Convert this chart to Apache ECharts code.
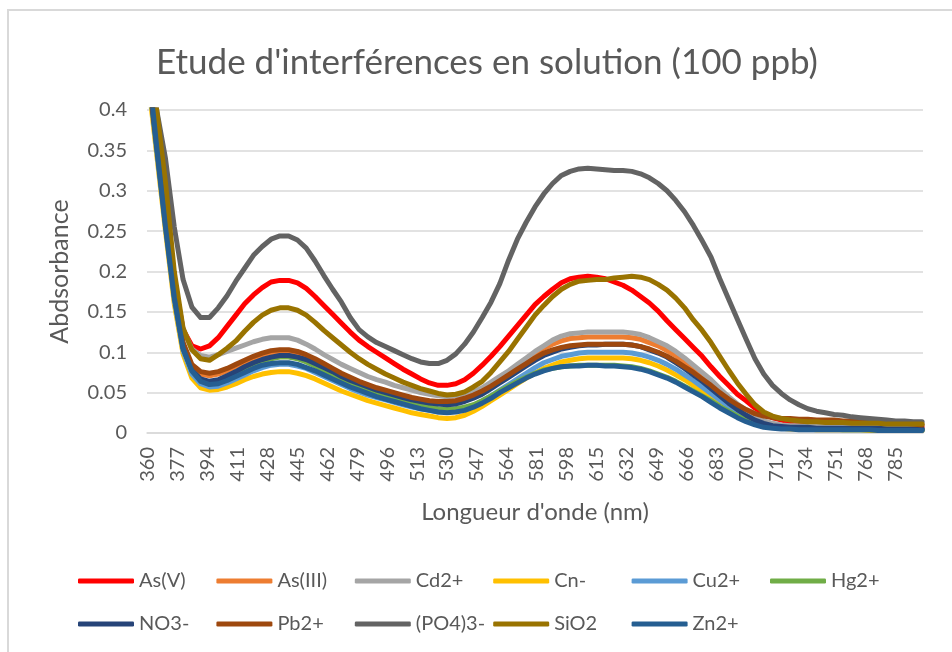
<!DOCTYPE html>
<html>
<head>
<meta charset="utf-8">
<title>Etude d'interférences en solution (100 ppb)</title>
<script src="https://cdn.jsdelivr.net/npm/echarts@6/dist/echarts.min.js"></script>
<style>
  html, body { margin: 0; padding: 0; background: #ffffff; }
  #chart { width: 952px; height: 652px; }
</style>
</head>
<body>
<div id="chart"></div>
<script>
// Absorbance spectra, one reading every 5 nm from 360 nm to 800 nm.
const START_NM = 360;
const END_NM = 800;
const STEP_NM = 5;

const seriesNames = ['As(V)', 'As(III)', 'Cd2+', 'Cn-', 'Cu2+', 'Hg2+', 'NO3-', 'Pb2+', '(PO4)3-', 'SiO2', 'Zn2+'];
const seriesColors = ['#FF0000', '#ED7D31', '#A5A5A5', '#FFC000', '#5B9BD5', '#70AD47', '#264478', '#9E480E', '#636363', '#997300', '#255E91'];

const asV = [
  0.45, 0.37, 0.28, 0.19, 0.128, 0.108, 0.104, 0.108, 0.118, 0.132,
  0.146, 0.160, 0.171, 0.180, 0.187, 0.189, 0.189, 0.186, 0.179, 0.169,
  0.158, 0.147, 0.136, 0.125, 0.115, 0.107, 0.100, 0.093, 0.086, 0.079,
  0.073, 0.067, 0.062, 0.059, 0.059, 0.061, 0.066, 0.074, 0.084, 0.095,
  0.107, 0.120, 0.133, 0.146, 0.159, 0.169, 0.178, 0.186, 0.191, 0.193,
  0.194, 0.193, 0.191, 0.187, 0.183, 0.177, 0.169, 0.161, 0.151, 0.139,
  0.128, 0.117, 0.106, 0.095, 0.082, 0.070, 0.059, 0.048, 0.040, 0.031,
  0.024, 0.019, 0.016, 0.014, 0.013, 0.012, 0.012, 0.011, 0.011, 0.010,
  0.010, 0.009, 0.009, 0.009, 0.008, 0.008, 0.008, 0.007, 0.007
];
const asIII = [
  0.45, 0.36, 0.27, 0.175, 0.110, 0.083, 0.073, 0.071, 0.073, 0.077,
  0.082, 0.087, 0.092, 0.096, 0.099, 0.100, 0.100, 0.098, 0.094, 0.089,
  0.083, 0.078, 0.072, 0.067, 0.062, 0.058, 0.055, 0.052, 0.049, 0.046,
  0.043, 0.041, 0.039, 0.038, 0.038, 0.040, 0.043, 0.047, 0.053, 0.060,
  0.067, 0.075, 0.083, 0.091, 0.098, 0.105, 0.110, 0.114, 0.117, 0.118,
  0.119, 0.119, 0.119, 0.119, 0.119, 0.118, 0.116, 0.112, 0.108, 0.102,
  0.096, 0.088, 0.080, 0.071, 0.062, 0.052, 0.043, 0.034, 0.026, 0.019,
  0.014, 0.011, 0.009, 0.008, 0.008, 0.007, 0.007, 0.007, 0.006, 0.006,
  0.006, 0.006, 0.006, 0.005, 0.005, 0.005, 0.005, 0.005, 0.005
];
const cd = [
  0.46, 0.38, 0.29, 0.19, 0.128, 0.104, 0.096, 0.094, 0.097, 0.101,
  0.105, 0.109, 0.113, 0.116, 0.118, 0.118, 0.118, 0.115, 0.110, 0.104,
  0.097, 0.091, 0.085, 0.080, 0.075, 0.070, 0.066, 0.063, 0.059, 0.056,
  0.053, 0.050, 0.048, 0.046, 0.045, 0.046, 0.048, 0.051, 0.056, 0.063,
  0.070, 0.077, 0.085, 0.093, 0.101, 0.108, 0.115, 0.120, 0.123, 0.124,
  0.125, 0.125, 0.125, 0.125, 0.125, 0.124, 0.122, 0.118, 0.113, 0.108,
  0.101, 0.093, 0.084, 0.075, 0.066, 0.055, 0.045, 0.036, 0.028, 0.020,
  0.015, 0.012, 0.010, 0.009, 0.009, 0.008, 0.008, 0.008, 0.008, 0.007,
  0.007, 0.007, 0.007, 0.007, 0.006, 0.006, 0.006, 0.006, 0.006
];
const cn = [
  0.44, 0.345, 0.25, 0.16, 0.098, 0.068, 0.056, 0.053, 0.054, 0.057,
  0.061, 0.066, 0.070, 0.073, 0.075, 0.076, 0.076, 0.074, 0.071, 0.067,
  0.062, 0.057, 0.052, 0.048, 0.044, 0.040, 0.037, 0.034, 0.031, 0.028,
  0.025, 0.023, 0.021, 0.019, 0.018, 0.019, 0.022, 0.027, 0.033, 0.040,
  0.047, 0.054, 0.061, 0.068, 0.074, 0.080, 0.084, 0.088, 0.090, 0.092,
  0.093, 0.093, 0.093, 0.093, 0.093, 0.092, 0.090, 0.087, 0.083, 0.078,
  0.072, 0.066, 0.059, 0.052, 0.045, 0.037, 0.030, 0.023, 0.017, 0.012,
  0.009, 0.007, 0.006, 0.005, 0.005, 0.005, 0.004, 0.004, 0.004, 0.004,
  0.004, 0.004, 0.003, 0.003, 0.003, 0.003, 0.003, 0.003, 0.003
];
const cu = [
  0.45, 0.35, 0.255, 0.165, 0.102, 0.073, 0.061, 0.057, 0.058, 0.062,
  0.067, 0.072, 0.077, 0.081, 0.084, 0.085, 0.085, 0.083, 0.080, 0.075,
  0.070, 0.065, 0.060, 0.055, 0.051, 0.047, 0.044, 0.041, 0.038, 0.035,
  0.032, 0.030, 0.028, 0.026, 0.026, 0.027, 0.030, 0.034, 0.040, 0.046,
  0.053, 0.060, 0.067, 0.074, 0.081, 0.087, 0.091, 0.095, 0.097, 0.099,
  0.100, 0.100, 0.100, 0.100, 0.100, 0.099, 0.097, 0.094, 0.090, 0.085,
  0.079, 0.072, 0.065, 0.057, 0.049, 0.041, 0.033, 0.026, 0.019, 0.014,
  0.010, 0.008, 0.007, 0.006, 0.006, 0.006, 0.005, 0.005, 0.005, 0.005,
  0.005, 0.005, 0.005, 0.004, 0.004, 0.004, 0.004, 0.004, 0.004
];
const hg = [
  0.45, 0.355, 0.26, 0.17, 0.105, 0.077, 0.065, 0.062, 0.064, 0.069,
  0.074, 0.080, 0.085, 0.089, 0.092, 0.094, 0.094, 0.092, 0.088, 0.083,
  0.078, 0.072, 0.066, 0.061, 0.056, 0.052, 0.048, 0.045, 0.042, 0.039,
  0.036, 0.034, 0.032, 0.030, 0.029, 0.030, 0.032, 0.035, 0.040, 0.046,
  0.052, 0.058, 0.064, 0.069, 0.074, 0.078, 0.080, 0.082, 0.083, 0.084,
  0.084, 0.084, 0.084, 0.084, 0.083, 0.082, 0.080, 0.077, 0.073, 0.069,
  0.064, 0.058, 0.052, 0.046, 0.040, 0.033, 0.027, 0.021, 0.016, 0.012,
  0.009, 0.007, 0.006, 0.006, 0.005, 0.005, 0.005, 0.005, 0.005, 0.004,
  0.004, 0.004, 0.004, 0.004, 0.004, 0.004, 0.004, 0.004, 0.004
];
const no3 = [
  0.45, 0.355, 0.26, 0.17, 0.105, 0.078, 0.067, 0.064, 0.066, 0.071,
  0.076, 0.082, 0.087, 0.091, 0.094, 0.096, 0.096, 0.094, 0.091, 0.086,
  0.081, 0.076, 0.070, 0.065, 0.061, 0.057, 0.053, 0.050, 0.047, 0.044,
  0.041, 0.039, 0.037, 0.036, 0.035, 0.036, 0.039, 0.043, 0.048, 0.055,
  0.062, 0.069, 0.076, 0.083, 0.090, 0.096, 0.100, 0.104, 0.106, 0.108,
  0.109, 0.109, 0.110, 0.110, 0.110, 0.109, 0.107, 0.103, 0.099, 0.094,
  0.087, 0.080, 0.072, 0.064, 0.055, 0.046, 0.037, 0.029, 0.022, 0.016,
  0.012, 0.009, 0.008, 0.007, 0.007, 0.007, 0.006, 0.006, 0.006, 0.006,
  0.006, 0.006, 0.006, 0.006, 0.005, 0.005, 0.005, 0.005, 0.005
];
const pb = [
  0.45, 0.36, 0.27, 0.175, 0.112, 0.085, 0.076, 0.074, 0.076, 0.080,
  0.085, 0.090, 0.095, 0.099, 0.102, 0.103, 0.103, 0.101, 0.097, 0.092,
  0.086, 0.080, 0.074, 0.069, 0.064, 0.060, 0.056, 0.053, 0.050, 0.047,
  0.044, 0.042, 0.040, 0.039, 0.039, 0.040, 0.043, 0.047, 0.052, 0.058,
  0.065, 0.072, 0.079, 0.086, 0.093, 0.099, 0.103, 0.106, 0.108, 0.109,
  0.110, 0.110, 0.110, 0.110, 0.110, 0.109, 0.107, 0.104, 0.100, 0.095,
  0.089, 0.082, 0.075, 0.067, 0.059, 0.050, 0.042, 0.035, 0.029, 0.024,
  0.021, 0.019, 0.018, 0.018, 0.017, 0.017, 0.016, 0.016, 0.016, 0.015,
  0.015, 0.014, 0.014, 0.013, 0.013, 0.012, 0.012, 0.011, 0.010
];
const po4 = [
  0.47, 0.40, 0.34, 0.255, 0.19, 0.156, 0.143, 0.143, 0.155, 0.170,
  0.188, 0.204, 0.220, 0.231, 0.240, 0.244, 0.244, 0.239, 0.229, 0.213,
  0.195, 0.178, 0.162, 0.143, 0.128, 0.119, 0.112, 0.107, 0.102, 0.097,
  0.092, 0.088, 0.086, 0.086, 0.090, 0.098, 0.110, 0.125, 0.143, 0.162,
  0.185, 0.214, 0.240, 0.261, 0.280, 0.296, 0.309, 0.319, 0.324, 0.327,
  0.328, 0.327, 0.326, 0.325, 0.325, 0.324, 0.321, 0.316, 0.309, 0.300,
  0.288, 0.274, 0.257, 0.238, 0.218, 0.191, 0.166, 0.141, 0.116, 0.092,
  0.073, 0.059, 0.049, 0.041, 0.035, 0.030, 0.027, 0.025, 0.023, 0.022,
  0.020, 0.019, 0.018, 0.017, 0.016, 0.015, 0.015, 0.014, 0.014
];
const sio2 = [
  0.48, 0.40, 0.31, 0.20, 0.130, 0.103, 0.092, 0.090, 0.097, 0.105,
  0.114, 0.126, 0.137, 0.146, 0.152, 0.155, 0.155, 0.152, 0.146, 0.137,
  0.127, 0.118, 0.109, 0.100, 0.092, 0.085, 0.079, 0.073, 0.068, 0.063,
  0.059, 0.055, 0.052, 0.049, 0.047, 0.048, 0.051, 0.057, 0.064, 0.075,
  0.088, 0.101, 0.116, 0.131, 0.146, 0.158, 0.169, 0.178, 0.184, 0.188,
  0.189, 0.190, 0.190, 0.192, 0.193, 0.194, 0.193, 0.190, 0.184, 0.177,
  0.167, 0.155, 0.140, 0.127, 0.112, 0.095, 0.078, 0.062, 0.048, 0.035,
  0.026, 0.021, 0.018, 0.016, 0.015, 0.014, 0.014, 0.013, 0.013, 0.013,
  0.012, 0.012, 0.012, 0.012, 0.011, 0.011, 0.011, 0.011, 0.011
];
const zn = [
  0.46, 0.355, 0.255, 0.168, 0.105, 0.077, 0.064, 0.060, 0.061, 0.065,
  0.070, 0.075, 0.080, 0.084, 0.086, 0.087, 0.087, 0.085, 0.081, 0.077,
  0.072, 0.067, 0.062, 0.057, 0.053, 0.049, 0.045, 0.042, 0.039, 0.036,
  0.033, 0.030, 0.028, 0.026, 0.025, 0.026, 0.028, 0.032, 0.037, 0.043,
  0.050, 0.056, 0.062, 0.068, 0.073, 0.077, 0.080, 0.082, 0.083, 0.083,
  0.084, 0.084, 0.083, 0.083, 0.082, 0.081, 0.079, 0.076, 0.072, 0.068,
  0.063, 0.057, 0.051, 0.045, 0.038, 0.031, 0.025, 0.019, 0.014, 0.010,
  0.007, 0.006, 0.005, 0.005, 0.004, 0.004, 0.004, 0.004, 0.004, 0.004,
  0.004, 0.004, 0.004, 0.003, 0.003, 0.003, 0.003, 0.003, 0.003
];

const seriesValues = [asV, asIII, cd, cn, cu, hg, no3, pb, po4, sio2, zn];

// One category per nanometre, so the axis labels fall on 360, 377, 394 ...
const wavelengths = [];
for (let nm = START_NM; nm <= END_NM; nm++) wavelengths.push(String(nm));

// Spread the 5 nm readings over the 1 nm categories; gaps are bridged by connectNulls.
function toCategoryData(values) {
  const out = new Array(wavelengths.length).fill(null);
  values.forEach(function (v, k) { out[k * STEP_NM] = v; });
  return out;
}

const FONT = 'Lato';
const TEXT = '#595959';
const GRID = '#D9D9D9';

// Legend laid out as a fixed grid: 6 entries per row, equal-width slots.
const LEGEND_LEFT = 78;
const LEGEND_SLOT = 138.4;
const LEGEND_ROWS_TOP = [571, 614];
const LEGEND_PER_ROW = 6;

const legends = seriesNames.map(function (name, i) {
  const row = Math.floor(i / LEGEND_PER_ROW);
  const col = i % LEGEND_PER_ROW;
  return {
    orient: 'horizontal',
    left: LEGEND_LEFT + col * LEGEND_SLOT,
    top: LEGEND_ROWS_TOP[row],
    padding: 0,
    itemGap: 0,
    itemWidth: 56,
    itemHeight: 5,
    icon: 'roundRect',
    selectedMode: false,
    data: [name],
    textStyle: { fontFamily: FONT, fontSize: 20, color: TEXT }
  };
});

const chart = echarts.init(document.getElementById('chart'), null, { renderer: 'canvas' });

chart.setOption({
  animation: false,
  backgroundColor: '#ffffff',
  color: seriesColors,
  title: {
    text: "Etude d'interférences en solution (100 ppb)",
    left: 487,
    top: 45,
    padding: 0,
    textAlign: 'center',
    textStyle: { fontFamily: FONT, fontSize: 35, fontWeight: 'normal', color: TEXT }
  },
  graphic: [{
    type: 'rect',
    silent: true,
    shape: { x: 8, y: 10, width: 1000, height: 700 },
    style: { fill: 'none', stroke: GRID, lineWidth: 2 }
  }],
  legend: legends,
  grid: { left: 147, right: 29, top: 110, bottom: 219, containLabel: false },
  xAxis: {
    type: 'category',
    data: wavelengths,
    boundaryGap: true,
    name: "Longueur d'onde (nm)",
    nameLocation: 'middle',
    nameGap: 67,
    nameTextStyle: { fontFamily: FONT, fontSize: 24, color: TEXT },
    axisLine: { lineStyle: { color: GRID, width: 1.5 } },
    axisTick: { show: false },
    axisLabel: { interval: 16, rotate: 90, margin: 14, fontFamily: FONT, fontSize: 20, color: TEXT },
    splitLine: { show: false }
  },
  yAxis: {
    type: 'value',
    min: 0,
    max: 0.4,
    interval: 0.05,
    name: 'Abdsorbance',
    nameLocation: 'middle',
    nameGap: 75,
    nameTextStyle: { fontFamily: FONT, fontSize: 25, color: TEXT },
    axisLine: { show: false },
    axisTick: { show: false },
    axisLabel: { margin: 20, fontFamily: FONT, fontSize: 20, color: TEXT },
    splitLine: { lineStyle: { color: GRID, width: 1.5 } }
  },
  series: seriesNames.map(function (name, i) {
    return {
      name: name,
      type: 'line',
      data: toCategoryData(seriesValues[i]),
      connectNulls: true,
      showSymbol: false,
      symbol: 'none',
      clip: true,
      lineStyle: { width: 5, color: seriesColors[i], join: 'round', cap: 'round' },
      itemStyle: { color: seriesColors[i] },
      emphasis: { disabled: true }
    };
  })
});
</script>
</body>
</html>
